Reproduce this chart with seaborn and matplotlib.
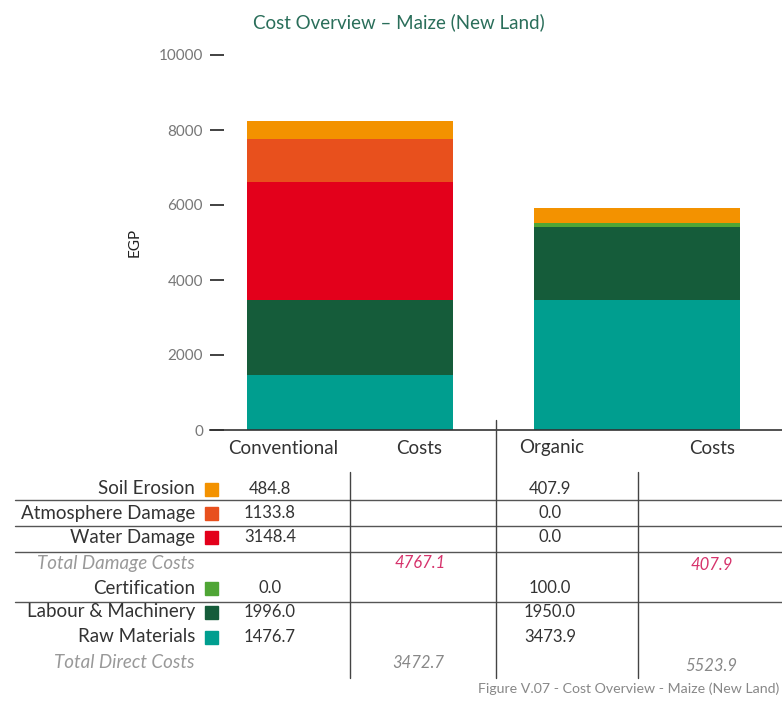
import matplotlib
matplotlib.use("Agg")
import matplotlib.pyplot as plt
import seaborn as sns
import numpy as np
from matplotlib.lines import Line2D

# data
systems = ["Conventional", "Organic"]
components = ["Soil Erosion", "Atmosphere Damage", "Water Damage",
              "Certification", "Labour & Machinery", "Raw Materials"]
conventional = [484.8, 1133.8, 3148.4, 0.0, 1996.0, 1476.7]
organic = [407.9, 0.0, 0.0, 100.0, 1950.0, 3473.9]
colors = ["#F39200", "#E8501D", "#E3001B", "#4FA535", "#155C3A", "#009E8F"]
damage_totals = [4767.1, 407.9]
direct_totals = [3472.7, 5523.9]
yticks = [0, 2000, 4000, 6000, 8000, 10000]

W, H = 782, 704
sns.set_theme(style="white")
plt.rcParams["font.family"] = ["Lato", "DejaVu Sans"]

fig = plt.figure(figsize=(W / 100, H / 100), dpi=100)


def fx(px):
    return px / W


def fy(py):
    return 1 - py / H


ax = fig.add_axes([fx(210), fy(430), fx(782) - fx(210), fy(55) - fy(430)])

# stacked bars, bottom first
order = [5, 4, 3, 2, 1, 0]
bottom = np.zeros(2)
for i in order:
    vals = np.array([conventional[i], organic[i]])
    sns.barplot(x=systems, y=vals, bottom=bottom, color=colors[i],
                width=0.72, saturation=1, linewidth=0, ax=ax)
    bottom = bottom + vals

ax.set_xlim(-0.488, 1.505)
ax.set_ylim(0, 10000)
ax.set_yticks(yticks)
ax.set_yticklabels([str(t) for t in yticks], color="#777777", fontsize=11)
ax.tick_params(axis="y", direction="in", length=10, width=1.3, color="#333333", pad=5, left=True)
ax.tick_params(axis="x", bottom=False, labelbottom=False)
ax.set_xlabel("")
ax.set_ylabel("EGP", fontsize=11, color="#222222", labelpad=12)
for s in ["top", "right", "left"]:
    ax.spines[s].set_visible(False)
ax.spines["bottom"].set_color("#333333")
ax.spines["bottom"].set_linewidth(1.2)

fig.text(fx(399), fy(22), "Cost Overview – Maize (New Land)", ha="center", va="center",
         fontsize=13.5, color="#2A6E5A")

# column headers
hdr_y = fy(448)
for x, t in [(283, "Conventional"), (419, "Costs"), (552, "Organic"), (712, "Costs")]:
    fig.text(fx(x), hdr_y, t, ha="center", va="center", fontsize=13.5, color="#333333")

# table rows
row_y = {"Soil Erosion": 489, "Atmosphere Damage": 513, "Water Damage": 537,
         "Certification": 588, "Labour & Machinery": 612, "Raw Materials": 637}
for i, name in enumerate(components):
    y = fy(row_y[name])
    fig.text(fx(195), y, name, ha="right", va="center", fontsize=13.5, color="#333333")
    fig.patches.append(plt.Rectangle((fx(205), y - 6.5 / H), 13 / W, 13 / H,
                                     transform=fig.transFigure, color=colors[i]))
    fig.text(fx(270), y, f"{conventional[i]:.1f}", ha="center", va="center",
             fontsize=12, color="#333333")
    fig.text(fx(550), y, f"{organic[i]:.1f}", ha="center", va="center",
             fontsize=12, color="#333333")

fig.text(fx(195), fy(563), "Total Damage Costs", ha="right", va="center",
         fontsize=13.5, style="italic", color="#999999")
fig.text(fx(195), fy(663), "Total Direct Costs", ha="right", va="center",
         fontsize=13.5, style="italic", color="#999999")
fig.text(fx(420), fy(563), f"{damage_totals[0]:.1f}", ha="center", va="center",
         fontsize=12, style="italic", color="#D6336C")
fig.text(fx(712), fy(565), f"{damage_totals[1]:.1f}", ha="center", va="center",
         fontsize=12, style="italic", color="#D6336C")
fig.text(fx(418), fy(663), f"{direct_totals[0]:.1f}", ha="center", va="center",
         fontsize=12, style="italic", color="#888888")
fig.text(fx(711), fy(666), f"{direct_totals[1]:.1f}", ha="center", va="center",
         fontsize=12, style="italic", color="#888888")

# grid lines of the table
for y in [500, 526, 552, 602]:
    fig.add_artist(Line2D([fx(15), fx(782)], [fy(y), fy(y)], color="#555555", lw=1))
fig.add_artist(Line2D([fx(496), fx(496)], [fy(420), fy(678)], color="#444444", lw=1))
for x in [350, 638]:
    fig.add_artist(Line2D([fx(x), fx(x)], [fy(472), fy(678)], color="#444444", lw=1))

fig.text(fx(779), fy(689), "Figure V.07 - Cost Overview - Maize (New Land)", ha="right",
         va="center", fontsize=10.2, color="#888888")

fig.savefig("out.png", dpi=100)
